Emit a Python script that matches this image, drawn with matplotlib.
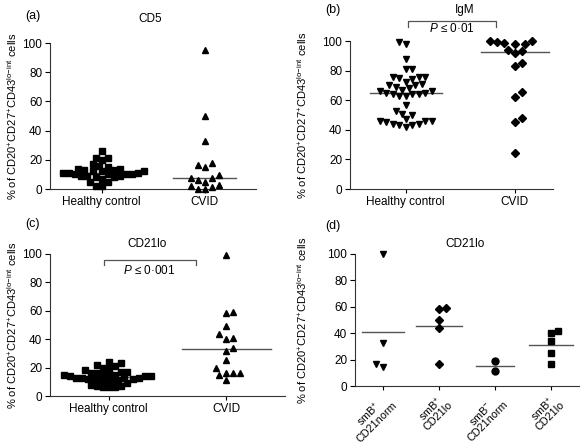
import numpy as np
import matplotlib
matplotlib.use("Agg")
import matplotlib.pyplot as plt

plt.rcParams['font.family'] = ['Liberation Sans', 'DejaVu Sans']
plt.rcParams['mathtext.fontset'] = 'custom'
plt.rcParams['mathtext.rm'] = 'Liberation Sans'
plt.rcParams['mathtext.it'] = 'Liberation Sans:italic'

# ---------------- data ----------------
cats_ab = ["Healthy control", "CVID"]
cats_d = ["smB$^{+}$\nCD21norm", "smB$^{+}$\nCD21lo", "smB$^{-}$\nCD21norm", "smB$^{+}$\nCD21lo"]

cd5_hc = [26, 21, 21, 20, 17, 16, 15, 14, 14, 13, 13, 12, 12, 12, 11, 11, 11, 10, 10,
          10, 10, 9, 9, 9, 8, 8, 7, 5, 5, 2, 2]
cd5_cvid = [95, 50, 32.6, 18, 15, 16.7, 6, 7.5, 7.5, 9.4, 4.8, 3, 1.4, 0, 0, 2.3]

igm_hc = [99, 98, 88, 81, 81, 76, 76, 76, 75, 74, 72, 71, 70, 70, 69, 68, 67, 66, 66,
          65, 65, 64, 64, 64, 63, 63, 57, 53, 51, 50, 47, 46, 46, 45, 44, 43, 42, 43, 44, 46]
igm_cvid = [97.7, 100, 99, 100, 97.7, 98.4, 94, 91.7, 93.2, 85, 83.4, 62.4, 65.8, 48.2, 45.5, 24.1]

cd21_hc = [24, 23, 22, 21, 20, 19, 18, 17, 17, 16, 16, 15, 15, 15, 14, 14, 14, 14, 13,
           13, 13, 13, 12, 12, 12, 11, 11, 10, 10, 9, 8, 7, 7, 6, 6, 6]
cd21_cvid = [99.3, 58.2, 59.4, 49.3, 43.4, 39.9, 40.6, 34, 31.7, 25.4, 16.4, 16.4, 19.5,
             16.4, 14.8, 11.3]

d_g1 = [100, 32.3, 14.6, 16.7]
d_g2 = [58, 59.3, 50, 44.2, 16.4]
d_g3 = [18.9, 11.4]
d_g4 = [41.7, 39.9, 34.3, 24.7, 16.4]

yticks = [0, 20, 40, 60, 80, 100]
ylabel = r'% of CD20$^{+}$CD27$^{+}$CD43$^{\mathrm{lo\!-\!int}}$ cells'

W, H = 580, 444
fig = plt.figure(figsize=(W / 100, H / 100), dpi=100)


def px_axes(left, right, y0, y100):
    return fig.add_axes([left / W, 1 - y0 / H, (right - left) / W, (y0 - y100) / H])


def ftext(x, y, s, **kw):
    fig.text(x / W, 1 - y / H, s, ha='center', va='center', **kw)


def swarm(vals, xppu, yppu, size_px):
    vals = np.asarray(vals, float)
    order = np.argsort(vals)
    placed = []
    offs = np.zeros(len(vals))
    step = size_px * 0.5
    for i in order:
        y = vals[i] * yppu
        cands = [0.0]
        for m in range(1, 60):
            cands += [m * step, -m * step] if (len(placed) % 2 == 0) else [-m * step, m * step]
        for c in cands:
            ok = all((c - px) ** 2 + (y - py) ** 2 >= size_px ** 2 * 0.98 for px, py in placed)
            if ok:
                break
        placed.append((c, y))
        offs[i] = c / xppu
    return offs


def style(ax, xlim, ncat, labels, rot=0):
    ax.set_xlim(*xlim)
    ax.set_ylim(0, 100)
    for s in ['top', 'right']:
        ax.spines[s].set_visible(False)
    ax.spines['left'].set_bounds(0, 100)
    ax.set_yticks(yticks)
    ax.set_xticks(range(ncat))
    if rot:
        ax.set_xticklabels(labels, rotation=45, ha='right', rotation_mode='anchor',
                           fontsize=7.8, linespacing=0.85, multialignment='center')
    else:
        ax.set_xticklabels(labels, fontsize=8.5)
    ax.tick_params(axis='y', labelsize=8.5, length=3.5, width=0.8, pad=2)
    ax.tick_params(axis='x', length=3, width=0.8, pad=2 if not rot else 1)
    for s in ['left', 'bottom']:
        ax.spines[s].set_linewidth(0.8)
        ax.spines[s].set_color('#333333')


def column(ax, vals, pos, marker, half, stat, ms=5.0, size_px=7.0):
    bb = ax.get_position()
    xl = ax.get_xlim()
    xppu = bb.width * W / (xl[1] - xl[0])
    yppu = bb.height * H / 100.0
    offs = swarm(vals, xppu, yppu, size_px)
    ax.plot(pos + offs, vals, linestyle='none', marker=marker, color='black',
            markersize=ms, clip_on=False, zorder=3)
    c = np.median(vals) if stat == 'median' else np.mean(vals)
    ax.plot([pos - half, pos + half], [c, c], color='#555555', lw=1.0, zorder=2, clip_on=False)


# (a)
axa = px_axes(50, 256, 189, 43)
style(axa, (-0.5, 1.5), 2, cats_ab)
column(axa, cd5_hc, 0, 's', 0.38, 'median', size_px=6.0)
column(axa, cd5_cvid, 1, '^', 0.31, 'median')

# (b)
axb = px_axes(350, 553, 189, 41)
style(axb, (-0.51, 1.35), 2, cats_ab)
column(axb, igm_hc, 0, 'v', 0.33, 'median', size_px=6.5)
column(axb, igm_cvid, 1, 'D', 0.31, 'median', ms=4.5)
axb.plot([0.02, 0.02, 0.83, 0.83], [109.5, 113.5, 113.5, 109.5], color='#555555', lw=0.9,
         clip_on=False)
axb.text(0.42, 108.5, r'$P$ ≤ 0·01', ha='center', va='center', fontsize=8.5)

# (c)
axc = px_axes(50, 285, 396, 254)
style(axc, (-0.5, 1.5), 2, cats_ab)
column(axc, cd21_hc, 0, 's', 0.34, 'median', size_px=6.0)
column(axc, cd21_cvid, 1, '^', 0.38, 'median')
axc.plot([-0.04, -0.04, 0.74, 0.74], [92.3, 95.8, 95.8, 92.3], color='#555555', lw=0.9,
         clip_on=False)
axc.text(0.34, 88.5, r'$P$ ≤ 0·001', ha='center', va='center', fontsize=8.5)

# (d)
axd = px_axes(355, 580, 386, 254)
style(axd, (-0.5, 3.52), 4, cats_d, rot=45)
column(axd, d_g1, 0, 'v', 0.38, 'mean')
column(axd, d_g2, 1, 'D', 0.41, 'mean', ms=4.5)
column(axd, d_g3, 2, 'o', 0.34, 'mean')
column(axd, d_g4, 3, 's', 0.39, 'mean')

# y labels
for x, y0, y100 in [(12, 189, 43), (302, 189, 41), (12, 396, 254), (302, 386, 254)]:
    fig.text(x / W, 1 - (y0 + y100) / 2 / H, ylabel, rotation=90, ha='center', va='center',
             fontsize=8)

# titles
ftext(33, 16, '(a)', fontsize=9)
ftext(150, 19, 'CD5', fontsize=8.5)
ftext(333, 10, '(b)', fontsize=9)
ftext(465, 10, 'IgM', fontsize=8.5)
ftext(32, 224, '(c)', fontsize=9)
ftext(147, 244, 'CD21lo', fontsize=8.5)
ftext(333, 226, '(d)', fontsize=9)
ftext(465, 244, 'CD21lo', fontsize=8.5)

fig.savefig('out.png', dpi=100)
